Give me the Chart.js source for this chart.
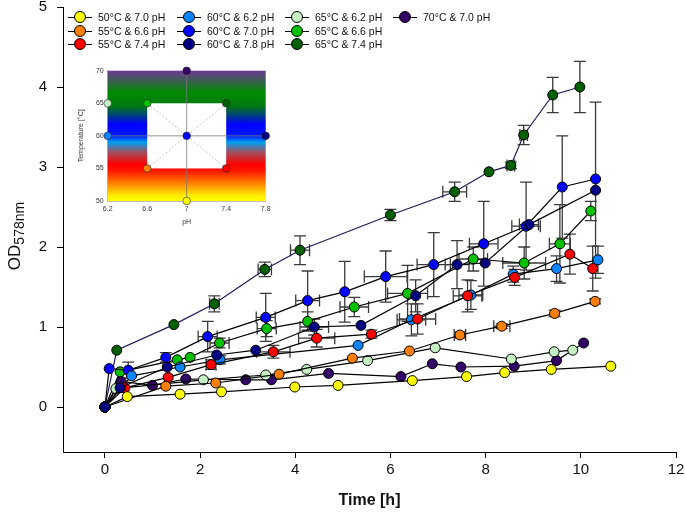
<!DOCTYPE html>
<html>
<head>
<meta charset="utf-8">
<script src="https://cdn.jsdelivr.net/npm/chart.js@4.4.1/dist/chart.umd.min.js"></script>
<style>
  body { margin: 0; background: #fff; }
  #wrap { position: relative; width: 685px; height: 516px; font-family: "Liberation Sans", Arial, sans-serif; }
  #main { position: absolute; left: 0; top: 0; }
  #insetBox { position: absolute; left: 60px; top: 60px; width: 215px; height: 172px; }
  .item { position: absolute; height: 12px; font-size: 10.5px; color: #111; white-space: nowrap; }
  .item .ln { position: absolute; left: 0; top: 6px; width: 24px; height: 1px; background: #000; }
  .item .dot { position: absolute; left: 6px; top: 0px; width: 10px; height: 10px; border: 1px solid #000; border-radius: 50%; }
  .item .txt { position: absolute; left: 30px; top: -1px; line-height: 14px; }
</style>
</head>
<body>
<div id="wrap">
  <canvas id="main" width="685" height="516"></canvas>
  <div id="insetBox"><canvas id="inset" width="215" height="172"></canvas></div>
  <div id="legend"></div>
</div>
<script>
// conditions (temperature / pH) and their colours, legend order
const tempC = [50, 55, 55, 60, 60, 60, 65, 65, 65, 70];
const pHs = [7.0, 6.6, 7.4, 6.2, 7.0, 7.8, 6.2, 6.6, 7.4, 7.0];
const colors = ['#ffff00', '#ff8000', '#ff0000', '#0a84ff', '#0000ff', '#000080', '#c4f0c4', '#00c000', '#006000', '#330066'];

// time [h], OD578 and error bars (y in OD, x in h) per condition
const t_50_70 = [0, 0.47, 1.58, 2.45, 3.99, 4.9, 6.46, 7.6, 8.4, 9.38, 10.63];
const od_50_70 = [0, 0.13, 0.16, 0.19, 0.25, 0.27, 0.33, 0.38, 0.43, 0.47, 0.51];
const ey_50_70 = [0, 0, 0, 0, 0, 0, 0, 0, 0, 0, 0];
const ex_50_70 = [0, 0, 0, 0, 0, 0, 0, 0, 0, 0, 0];

const t_55_66 = [0, 1.28, 2.33, 3.66, 5.2, 6.4, 7.46, 8.34, 9.45, 10.3];
const od_55_66 = [0, 0.26, 0.30, 0.41, 0.61, 0.70, 0.90, 1.01, 1.17, 1.32];
const ey_55_66 = [0, 0, 0, 0, 0, 0, 0.04, 0.03, 0.04, 0.03];
const ex_55_66 = [0, 0, 0, 0, 0, 0, 0.12, 0.17, 0, 0];

const t_55_74 = [0, 0.42, 1.33, 2.23, 3.54, 4.45, 5.6, 6.57, 7.62, 8.61, 9.77, 10.25];
const od_55_74 = [0, 0.24, 0.37, 0.53, 0.69, 0.86, 0.91, 1.10, 1.39, 1.62, 1.91, 1.73];
const ey_55_74 = [0, 0, 0, 0.06, 0.08, 0.11, 0.05, 0.19, 0.2, 0.1, 0.25, 0.28];
const ex_55_74 = [0, 0, 0, 0.1, 0.35, 0.38, 0, 0.38, 0.3, 0, 0, 0];

const t_60_62 = [0, 0.56, 1.58, 2.42, 5.32, 6.44, 7.69, 8.58, 9.49, 10.36];
const od_60_62 = [0, 0.39, 0.50, 0.59, 0.77, 1.09, 1.40, 1.66, 1.73, 1.84];
const ey_60_62 = [0, 0, 0, 0.05, 0, 0.2, 0.18, 0.1, 0.16, 0.17];
const ex_60_62 = [0, 0, 0, 0, 0, 0.3, 0.25, 0, 0, 0];

const t_60_70 = [0, 0.09, 0.49, 1.28, 2.16, 3.38, 4.26, 5.04, 5.9, 6.91, 7.96, 8.85, 9.61, 10.31];
const od_60_70 = [0, 0.48, 0.46, 0.62, 0.88, 1.12, 1.33, 1.44, 1.63, 1.78, 2.04, 2.26, 2.75, 2.85];
const ey_60_70 = [0, 0, 0.1, 0.06, 0.19, 0.3, 0.37, 0.38, 0.32, 0.4, 0.53, 0.55, 0.64, 0];
const ex_60_70 = [0, 0, 0, 0, 0.2, 0.2, 0.25, 0, 0.45, 0.35, 0.3, 0.3, 0, 0];

const t_60_78 = [0, 0.32, 1.31, 2.35, 3.17, 4.4, 5.38, 6.53, 7.4, 7.99, 8.91, 10.31];
const od_60_78 = [0, 0.24, 0.50, 0.65, 0.71, 1.0, 1.02, 1.39, 1.78, 1.80, 2.28, 2.71];
const ey_60_78 = [0, 0, 0, 0, 0, 0.1, 0, 0.2, 0.3, 0, 0, 1.1];
const ex_60_78 = [0, 0, 0, 0, 0, 0.3, 0, 0, 0.25, 0, 0.2, 0];

const t_65_62 = [0, 0.23, 2.07, 3.38, 4.24, 5.52, 6.94, 8.54, 9.44, 9.83];
const od_65_62 = [0, 0.23, 0.34, 0.40, 0.47, 0.58, 0.74, 0.60, 0.69, 0.71];
const ey_65_62 = [0, 0, 0, 0, 0, 0, 0, 0, 0, 0];
const ex_65_62 = [0, 0, 0, 0, 0, 0, 0, 0, 0, 0];

const t_65_66 = [0, 0.32, 1.52, 1.79, 2.41, 3.4, 4.26, 5.24, 6.36, 7.74, 8.81, 9.56, 10.21];
const od_65_66 = [0, 0.44, 0.59, 0.62, 0.80, 0.98, 1.07, 1.25, 1.42, 1.85, 1.80, 2.04, 2.45];
const ey_65_66 = [0, 0, 0, 0, 0.06, 0.1, 0.12, 0.12, 0.35, 0.15, 0.2, 0.49, 0.12];
const ex_65_66 = [0, 0, 0, 0, 0.2, 0.2, 0, 0.3, 0.42, 0.3, 0.45, 0.22, 0];

const t_65_74 = [0, 0.25, 1.45, 2.3, 3.36, 4.1, 6.0, 7.35, 8.07, 8.53, 8.8, 9.41, 9.98];
const od_65_74 = [0, 0.71, 1.03, 1.29, 1.72, 1.96, 2.4, 2.69, 2.94, 3.02, 3.4, 3.9, 4.0];
const ey_65_74 = [0, 0, 0, 0.1, 0.09, 0.18, 0.07, 0.12, 0, 0.04, 0.12, 0.22, 0.32];
const ex_65_74 = [0, 0, 0, 0.1, 0.14, 0.2, 0, 0.25, 0, 0.08, 0.08, 0, 0];

const t_70_70 = [0, 0.34, 1.0, 1.70, 2.96, 3.5, 4.7, 6.22, 6.88, 7.48, 8.6, 9.49, 10.06];
const od_70_70 = [0, 0.32, 0.27, 0.35, 0.34, 0.34, 0.42, 0.38, 0.54, 0.50, 0.51, 0.58, 0.80];
const ey_70_70 = [0, 0, 0, 0, 0, 0, 0, 0, 0, 0, 0, 0, 0];
const ex_70_70 = [0, 0, 0, 0, 0, 0, 0, 0, 0, 0, 0, 0, 0];

// axis ticks
const xTicks = [0, 2, 4, 6, 8, 10, 12];
const yTicks = [0, 1, 2, 3, 4, 5];
const insetPH = [6.2, 6.6, 7.0, 7.4, 7.8];
const insetTemp = [50, 55, 60, 65, 70];

const times = [t_50_70, t_55_66, t_55_74, t_60_62, t_60_70, t_60_78, t_65_62, t_65_66, t_65_74, t_70_70];
const ods = [od_50_70, od_55_66, od_55_74, od_60_62, od_60_70, od_60_78, od_65_62, od_65_66, od_65_74, od_70_70];
const eys = [ey_50_70, ey_55_66, ey_55_74, ey_60_62, ey_60_70, ey_60_78, ey_65_62, ey_65_66, ey_65_74, ey_70_70];
const exs = [ex_50_70, ex_55_66, ex_55_74, ex_60_62, ex_60_70, ex_60_78, ex_65_62, ex_65_66, ex_65_74, ex_70_70];

const labels = tempC.map((tc, i) => tc + '°C & ' + pHs[i].toFixed(1) + ' pH');
const FONT = '"Liberation Sans", Arial, sans-serif';

// legend (html, column major)
const legend = document.getElementById('legend');
const colX = [68, 177, 285, 393];
const rowY = [17, 31, 44];
labels.forEach((lab, i) => {
  const d = document.createElement('div');
  d.className = 'item';
  d.style.left = colX[Math.floor(i / 3)] + 'px';
  d.style.top = (rowY[i % 3] - 6) + 'px';
  d.innerHTML = '<span class="ln"></span><span class="dot" style="background:' + colors[i] + '"></span><span class="txt">' + lab + '</span>';
  legend.appendChild(d);
});

const datasets = labels.map((lab, i) => ({
  label: lab,
  data: times[i].map((t, k) => ({ x: t, y: ods[i][k] })),
  yErr: eys[i],
  xErr: exs[i],
  borderColor: i === 8 ? '#1c1c5c' : '#000',
  borderWidth: 1.2,
  tension: 0,
  fill: false,
  pointRadius: 5,
  pointBackgroundColor: colors[i],
  pointBorderColor: '#000',
  pointBorderWidth: 1,
  order: i === 5 ? -1 : 0,
  clip: false
}));

// error bars drawn under the markers
const errorBars = {
  id: 'errorBars',
  beforeDatasetsDraw(chart) {
    const { ctx, scales: { x, y } } = chart;
    ctx.save();
    ctx.strokeStyle = '#3a3a3a';
    ctx.lineWidth = 1.3;
    const cap = 6;
    chart.data.datasets.forEach(ds => {
      ds.data.forEach((p, i) => {
        const px = x.getPixelForValue(p.x);
        const py = y.getPixelForValue(p.y);
        const ey = ds.yErr[i] || 0;
        const ex = ds.xErr[i] || 0;
        ctx.beginPath();
        if (ey) {
          const top = y.getPixelForValue(p.y + ey);
          const bot = y.getPixelForValue(p.y - ey);
          ctx.moveTo(px, top); ctx.lineTo(px, bot);
          ctx.moveTo(px - cap, top); ctx.lineTo(px + cap, top);
          ctx.moveTo(px - cap, bot); ctx.lineTo(px + cap, bot);
        }
        if (ex) {
          const l = x.getPixelForValue(p.x - ex);
          const r = x.getPixelForValue(p.x + ex);
          ctx.moveTo(l, py); ctx.lineTo(r, py);
          ctx.moveTo(l, py - cap); ctx.lineTo(l, py + cap);
          ctx.moveTo(r, py - cap); ctx.lineTo(r, py + cap);
        }
        ctx.stroke();
      });
    });
    ctx.restore();
  }
};

// rotated y title with subscript
const yTitle = {
  id: 'yTitle',
  afterDraw(chart) {
    const { ctx } = chart;
    ctx.save();
    ctx.translate(20, 236);
    ctx.rotate(-Math.PI / 2);
    ctx.fillStyle = '#111';
    ctx.textBaseline = 'alphabetic';
    ctx.font = '17px ' + FONT;
    const w1 = ctx.measureText('OD').width;
    ctx.font = '14px ' + FONT;
    const w2 = ctx.measureText('578nm').width;
    const x0 = -(w1 + w2) / 2;
    ctx.font = '17px ' + FONT;
    ctx.fillText('OD', x0, 0);
    ctx.font = '14px ' + FONT;
    ctx.fillText('578nm', x0 + w1, 4);
    ctx.restore();
  }
};

const noPad = s => { s.paddingTop = 0; s.paddingBottom = 0; s.paddingLeft = 0; s.paddingRight = 0; };

new Chart(document.getElementById('main'), {
  type: 'line',
  data: { datasets },
  options: {
    responsive: false,
    animation: false,
    layout: { padding: { top: 7, right: 9, left: 0, bottom: 0 } },
    plugins: { legend: { display: false }, tooltip: { enabled: false } },
    scales: {
      x: {
        type: 'linear', min: -0.88, max: 12,
        afterBuildTicks: s => { s.ticks = xTicks.map(v => ({ value: v })); },
        afterFit: s => { s.height = 64; noPad(s); },
        grid: { drawOnChartArea: false, tickLength: 6, color: '#000' },
        border: { color: '#000', width: 1 },
        ticks: { font: { size: 15, family: FONT }, color: '#111', padding: 3, maxRotation: 0 },
        title: { display: true, text: 'Time [h]', font: { size: 16, weight: 'bold', family: FONT }, color: '#111', padding: { top: 0, bottom: 6 } }
      },
      y: {
        type: 'linear', min: -0.5625, max: 5,
        afterBuildTicks: s => { s.ticks = yTicks.map(v => ({ value: v })); },
        afterFit: s => { s.width = 63; noPad(s); },
        grid: { drawOnChartArea: false, tickLength: 6, color: '#000' },
        border: { color: '#000', width: 1 },
        ticks: { font: { size: 15, family: FONT }, color: '#111', padding: 10 }
      }
    }
  },
  plugins: [errorBars, yTitle]
});

// inset: design of the temperature / pH conditions
const insetBg = {
  id: 'insetBg',
  beforeDatasetsDraw(chart) {
    const { ctx, chartArea: a, scales: { x, y } } = chart;
    const y70 = y.getPixelForValue(70), y50 = y.getPixelForValue(50);
    const g = ctx.createLinearGradient(0, y70, 0, y50);
    const stops = [[70, '#6d3a93'], [66.6, '#008a00'], [64.6, '#007a10'], [63, '#003a88'], [61.8, '#0000ff'], [60, '#0018ff'],
      [59, '#00a0f0'], [57.5, '#a05060'], [55.6, '#ff0000'], [54.6, '#ff1800'], [52.6, '#ff8800'], [50.8, '#ffee00'], [50, '#ffff00']];
    stops.forEach(([t, c]) => g.addColorStop((70 - t) / 20, c));
    ctx.save();
    ctx.fillStyle = g;
    ctx.fillRect(a.left, a.top, a.right - a.left, a.bottom - a.top);
    ctx.fillStyle = '#fff';
    const l = x.getPixelForValue(6.6), r = x.getPixelForValue(7.4);
    const t = y.getPixelForValue(65), b = y.getPixelForValue(55);
    ctx.fillRect(l, t, r - l, b - t);
    ctx.restore();
  }
};

const insetTick = { size: 7, family: FONT };
new Chart(document.getElementById('inset'), {
  type: 'scatter',
  data: {
    datasets: [
      { data: tempC.map((tc, i) => ({ x: pHs[i], y: tc })), pointRadius: 3.8, pointBackgroundColor: colors, pointBorderColor: '#222', pointBorderWidth: 0.6, clip: false, order: -1 },
      { data: [{ x: 7, y: 50 }, { x: 7, y: 70 }], showLine: true, borderColor: '#777', borderWidth: 0.8, pointRadius: 0 },
      { data: [{ x: 6.2, y: 60 }, { x: 7.8, y: 60 }], showLine: true, borderColor: '#777', borderWidth: 0.8, pointRadius: 0 },
      { data: [{ x: 6.6, y: 55 }, { x: 7.4, y: 65 }], showLine: true, borderColor: '#aaa', borderWidth: 0.7, borderDash: [2, 2], pointRadius: 0 },
      { data: [{ x: 6.6, y: 65 }, { x: 7.4, y: 55 }], showLine: true, borderColor: '#aaa', borderWidth: 0.7, borderDash: [2, 2], pointRadius: 0 }
    ]
  },
  options: {
    responsive: false,
    animation: false,
    layout: { padding: { top: 10.7, right: 9.3, left: 0, bottom: 0 } },
    plugins: { legend: { display: false }, tooltip: { enabled: false } },
    scales: {
      x: {
        type: 'linear', min: 6.2, max: 7.8,
        afterBuildTicks: s => { s.ticks = insetPH.map(v => ({ value: v })); },
        afterFit: s => { s.height = 31; noPad(s); },
        grid: { display: false, drawTicks: false },
        border: { color: '#bbb', width: 1 },
        ticks: { font: insetTick, color: '#333', padding: 4, maxRotation: 0, callback: v => String(+v.toFixed(1)) },
        title: { display: true, text: 'pH', font: insetTick, color: '#333', padding: { top: 0, bottom: 6 } }
      },
      y: {
        type: 'linear', min: 50, max: 70,
        afterBuildTicks: s => { s.ticks = insetTemp.map(v => ({ value: v })); },
        afterFit: s => { s.width = 47.7; noPad(s); },
        grid: { display: false, drawTicks: false },
        border: { color: '#bbb', width: 1 },
        ticks: { font: insetTick, color: '#333', padding: 4 },
        title: { display: true, text: 'Temperature [°C]', font: insetTick, color: '#333', padding: { top: 17, bottom: 0 } }
      }
    }
  },
  plugins: [insetBg]
});
</script>
</body>
</html>
